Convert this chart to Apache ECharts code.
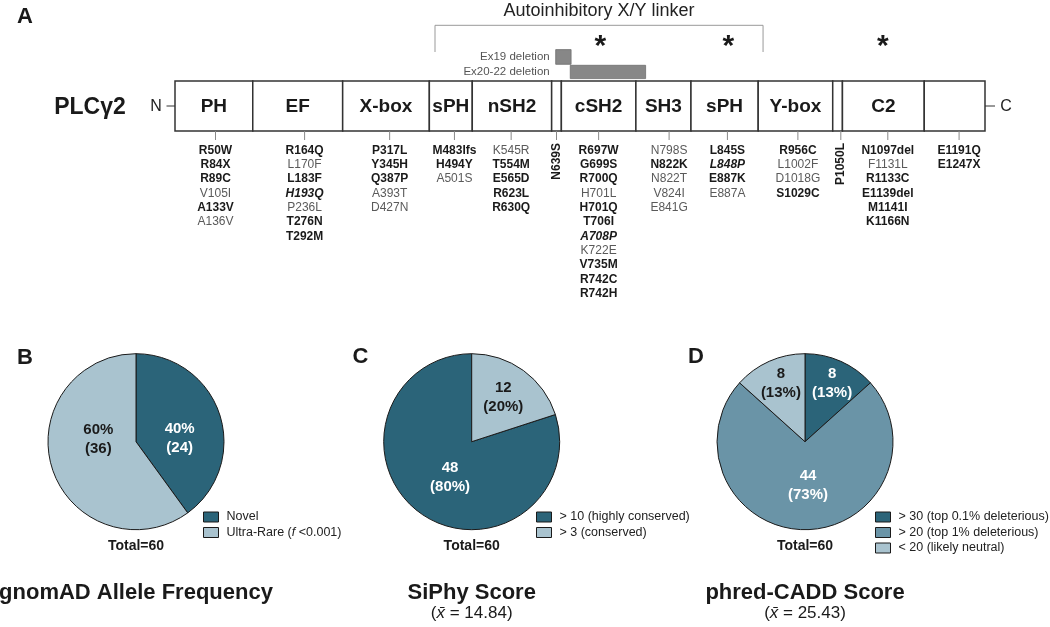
<!DOCTYPE html>
<html><head><meta charset="utf-8">
<script src="https://cdn.jsdelivr.net/npm/echarts@6/dist/echarts.min.js"></script>
<style>html,body{margin:0;padding:0;background:#fff}#c{width:1050px;height:627px}</style>
</head><body><div id="c"></div>
<script>
// ---------- Panel A data (diagram units 0..1000 along the protein schematic) ----------
const domainNames = ['PH','EF','X-box','sPH','nSH2','','cSH2','SH3','sPH','Y-box','','C2',''];
const domainStart = [0,96,207,314,367,465,477,569,637,720,812,824,925];
const domainEnd   = [96,207,314,367,465,477,569,637,720,812,824,925,1000];

const mutationPos = [50,160,265,345,415,471,523,610,682,769,822,880,968];
const mutationLists = [
  ['R50W','R84X','R89C','V105I','A133V','A136V'],
  ['R164Q','L170F','L183F','H193Q','P236L','T276N','T292M'],
  ['P317L','Y345H','Q387P','A393T','D427N'],
  ['M483Ifs','H494Y','A501S'],
  ['K545R','T554M','E565D','R623L','R630Q'],
  ['N639S'],
  ['R697W','G699S','R700Q','H701L','H701Q','T706I','A708P','K722E','V735M','R742C','R742H'],
  ['N798S','N822K','N822T','V824I','E841G'],
  ['L845S','L848P','E887K','E887A'],
  ['R956C','L1002F','D1018G','S1029C'],
  ['P1050L'],
  ['N1097del','F1131L','R1133C','E1139del','M1141I','K1166N'],
  ['E1191Q','E1247X']
];
// b = bold, n = normal, bi = bold italic
const mutationEmphasis = [
  ['b','b','b','n','b','n'],
  ['b','n','b','bi','n','b','b'],
  ['b','b','b','n','n'],
  ['b','b','n'],
  ['n','b','b','b','b'],
  ['b'],
  ['b','b','b','n','b','b','bi','n','b','b','b'],
  ['n','b','n','n','n'],
  ['b','bi','b','n'],
  ['b','n','n','b'],
  ['b'],
  ['b','n','b','b','b','b'],
  ['b','b']
];
const rotatedColumns = [5, 10];

const deletionNames = ['Ex19 deletion','Ex20-22 deletion'];
const deletionStart = [470, 488];
const deletionEnd   = [489, 581];

const linkerLabel = 'Autoinhibitory X/Y linker';
const linkerStart = 321, linkerEnd = 726;
const asteriskPos = [525, 683, 874];

// ---------- Panels B-D data ----------
const gnomadNames  = ['Novel','Ultra-Rare (f <0.001)'];
const gnomadValues = [24, 36];
const siphyNames   = ['> 10 (highly conserved)','> 3 (conserved)'];
const siphyValues  = [48, 12];
const caddNames    = ['> 30 (top 0.1% deleterious)','> 20 (top 1% deleterious)','< 20 (likely neutral)'];
const caddValues   = [8, 44, 8];
const siphyMean = 14.84, caddMean = 25.43;

// ---------- styling ----------
const FF = '"Liberation Sans", Arial, Helvetica, sans-serif';
const DARK = '#2b6479', MID = '#6a94a7', LIGHT = '#a9c3cf';
const INK = '#1a1a1a';

const chart = echarts.init(document.getElementById('c'), null, {renderer:'canvas'});

function domainItem(params, api) {
  const i = params.dataIndex;
  const p0 = api.coord([api.value(0), 1]);
  const p1 = api.coord([api.value(1), 0]);
  return {type:'group', children:[
    {type:'rect', shape:{x:p0[0], y:p0[1], width:p1[0]-p0[0], height:p1[1]-p0[1]},
     style:{fill:'#fff', stroke:'#333', lineWidth:1.5}},
    {type:'text', style:{text:domainNames[i], x:(p0[0]+p1[0])/2, y:(p0[1]+p1[1])/2 + 1,
     align:'center', verticalAlign:'middle', font:'bold 19px ' + FF, fill:INK}}
  ]};
}

function mutationItem(params, api) {
  const c = params.dataIndex;
  const p = api.coord([api.value(0), 0]);
  const x = p[0], yb = p[1];
  const children = [{type:'line', shape:{x1:x, y1:yb, x2:x, y2:yb+9}, style:{stroke:'#888', lineWidth:1}}];
  const list = mutationLists[c];
  if (rotatedColumns.indexOf(c) >= 0) {
    children.push({type:'text', x:x, y:yb+12, rotation:Math.PI/2,
      style:{text:list[0], x:0, y:0, align:'right', verticalAlign:'middle', font:'bold 12px ' + FF, fill:INK}});
  } else {
    list.forEach((m, r) => {
      const e = mutationEmphasis[c][r];
      const font = (e === 'bi' ? 'italic bold ' : e === 'b' ? 'bold ' : '') + '12px ' + FF;
      children.push({type:'text', style:{text:m, x:x, y:yb + 19.5 + r*14.3, align:'center', verticalAlign:'middle',
        font:font, fill: e === 'n' ? '#5a5a5a' : INK}});
    });
  }
  return {type:'group', children};
}

function deletionItem(params, api) {
  const r = params.dataIndex;
  const p0 = api.coord([api.value(0), 1]);
  const p1 = api.coord([api.value(1), 1]);
  const top = r === 0 ? p0[1] - 31.4 : p0[1] - 15.7;
  const h = r === 0 ? 14.7 : 13.3;
  const labelX = api.coord([Math.min.apply(null, deletionStart), 1])[0] - 6;
  return {type:'group', children:[
    {type:'rect', shape:{x:p0[0], y:top, width:p1[0]-p0[0], height:h}, style:{fill:'#878787', stroke:'#6e6e6e', lineWidth:0.8}},
    {type:'text', style:{text:deletionNames[r], x:labelX, y:top + h/2, align:'right', verticalAlign:'middle',
      font:'11.5px ' + FF, fill:'#555'}}
  ]};
}

function linkerItem(params, api) {
  const p0 = api.coord([api.value(0), 1]);
  const p1 = api.coord([api.value(1), 1]);
  const yTop = p0[1] - 55.7, yBot = p0[1] - 29;
  return {type:'group', children:[
    {type:'polyline', shape:{points:[[p0[0], yBot],[p0[0], yTop],[p1[0], yTop],[p1[0], yBot]]},
     style:{stroke:'#999', lineWidth:1, fill:null}},
    {type:'text', style:{text:linkerLabel, x:(p0[0]+p1[0])/2, y:p0[1]-69.7, align:'center', verticalAlign:'middle',
      font:'18px ' + FF, fill:'#222'}}
  ]};
}

function asteriskItem(params, api) {
  const p = api.coord([api.value(0), 1]);
  return {type:'text', style:{text:'*', x:p[0], y:p[1]-34, align:'center', verticalAlign:'middle',
    font:'bold 30px ' + FF, fill:INK}};
}

function endsItem(params, api) {
  const i = params.dataIndex;
  const p = api.coord([api.value(0), 0.5]);
  if (i === 0) {
    return {type:'group', children:[
      {type:'line', shape:{x1:p[0]-8.5, y1:p[1], x2:p[0], y2:p[1]}, style:{stroke:'#333', lineWidth:1}},
      {type:'text', style:{text:'N', x:p[0]-19, y:p[1]+1, align:'center', verticalAlign:'middle', font:'16px ' + FF, fill:'#222'}},
      {type:'text', style:{text:'PLC\u03B32', x:p[0]-85, y:p[1]+1.5, align:'center', verticalAlign:'middle', font:'bold 23px ' + FF, fill:INK}}
    ]};
  }
  return {type:'group', children:[
    {type:'line', shape:{x1:p[0], y1:p[1], x2:p[0]+10, y2:p[1]}, style:{stroke:'#333', lineWidth:1}},
    {type:'text', style:{text:'C', x:p[0]+21, y:p[1]+1, align:'center', verticalAlign:'middle', font:'16px ' + FF, fill:'#222'}}
  ]};
}

function pieSeries(names, values, colors, labelColors, center, clockwise, fmt, offsets) {
  const total = values.reduce((a, b) => a + b, 0);
  return {
    type:'pie', center:center, radius:88, startAngle:90, clockwise:clockwise,
    silent:true, animation:false, avoidLabelOverlap:false,
    itemStyle:{borderColor:INK, borderWidth:1},
    label:{show:true, position:'inside', fontSize:15, fontWeight:'bold', lineHeight:19, fontFamily:FF,
      formatter: p => fmt(p.value, Math.round(p.value / total * 100))},
    labelLine:{show:false},
    labelLayout: p => ({dx:offsets[p.dataIndex][0], dy:offsets[p.dataIndex][1]}),
    data: names.map((n, i) => ({name:n, value:values[i], itemStyle:{color:colors[i]}, label:{color:labelColors[i]}}))
  };
}

function legendFor(names, left) {
  return {
    data:names, left:left, top:510.5, orient:'vertical', itemWidth:15, itemHeight:10, itemGap:2.5,
    padding:0, selectedMode:false, icon:'rect',
    itemStyle:{borderColor:INK, borderWidth:1},
    textStyle:{fontSize:12.5, fontFamily:FF, color:'#222', padding:[0,0,0,3], rich:{i:{fontStyle:'italic', fontSize:12.5, fontFamily:FF, color:'#222'}}},
    formatter: name => name.replace('(f ', '({i|f} ')
  };
}

const pies = [
  {cx:136, values:gnomadValues},
  {cx:471.7, values:siphyValues},
  {cx:805, values:caddValues}
];
const totals = pies.map(p => p.values.reduce((a, b) => a + b, 0));

const graphics = [
  {type:'text', style:{text:'A', x:25, y:17, align:'center', verticalAlign:'middle', font:'bold 22px ' + FF, fill:INK}},
  {type:'text', style:{text:'B', x:25, y:357.5, align:'center', verticalAlign:'middle', font:'bold 22px ' + FF, fill:INK}},
  {type:'text', style:{text:'C', x:360.5, y:357, align:'center', verticalAlign:'middle', font:'bold 22px ' + FF, fill:INK}},
  {type:'text', style:{text:'D', x:696, y:357, align:'center', verticalAlign:'middle', font:'bold 22px ' + FF, fill:INK}}
];
const titles = ['gnomAD Allele Frequency', 'SiPhy Score', 'phred-CADD Score'];
const subs = [null, siphyMean, caddMean];
pies.forEach((p, i) => {
  graphics.push({type:'text', style:{text:'Total=' + totals[i], x:p.cx, y:546, align:'center', verticalAlign:'middle', font:'bold 14px ' + FF, fill:INK}});
  graphics.push({type:'text', style:{text:titles[i], x:p.cx, y:592.5, align:'center', verticalAlign:'middle', font:'bold 22px ' + FF, fill:INK}});
  if (subs[i] !== null) {
    graphics.push({type:'text', style:{text:'({x|x\u0304} = ' + subs[i].toFixed(2) + ')', x:p.cx, y:613, align:'center', verticalAlign:'middle',
      font:'17px ' + FF, fill:INK, rich:{x:{fontStyle:'italic', fontSize:17, fontFamily:FF, fill:INK}}}});
  }
});

chart.setOption({
  animation:false,
  grid:{left:175, top:81, width:810, height:50},
  xAxis:{type:'value', min:0, max:1000, show:false},
  yAxis:{type:'value', min:0, max:1, show:false},
  legend:[legendFor(gnomadNames, 203), legendFor(siphyNames, 536), legendFor(caddNames, 875)],
  graphic:graphics,
  series:[
    {type:'custom', renderItem:linkerItem, clip:false, silent:true, encode:{x:[0,1]}, data:[[linkerStart, linkerEnd]]},
    {type:'custom', renderItem:asteriskItem, clip:false, silent:true, encode:{x:0}, data:asteriskPos.map(v => [v])},
    {type:'custom', renderItem:deletionItem, clip:false, silent:true, encode:{x:[0,1]}, data:deletionStart.map((s, i) => [s, deletionEnd[i]])},
    {type:'custom', renderItem:domainItem, clip:false, silent:true, encode:{x:[0,1]}, data:domainStart.map((s, i) => [s, domainEnd[i]])},
    {type:'custom', renderItem:endsItem, clip:false, silent:true, encode:{x:0}, data:[[domainStart[0]],[domainEnd[domainEnd.length-1]]]},
    {type:'custom', renderItem:mutationItem, clip:false, silent:true, encode:{x:0}, data:mutationPos.map(v => [v])},
    pieSeries(gnomadNames, gnomadValues, [DARK, LIGHT], ['#fff', INK], [136, 441.7], true,
      (v, pct) => pct + '%\n(' + v + ')', [[-1, 11], [7, -17]]),
    pieSeries(siphyNames, siphyValues, [DARK, LIGHT], ['#fff', INK], [471.7, 441.7], false,
      (v, pct) => v + '\n(' + pct + '%)', [[6, -2], [4, -6.5]]),
    pieSeries(caddNames, caddValues, [DARK, MID, LIGHT], ['#fff', '#fff', INK], [805, 441.7], true,
      (v, pct) => v + '\n(' + pct + '%)', [[8, -15], [3, -3], [-5, -15]])
  ]
});
</script>
</body></html>
